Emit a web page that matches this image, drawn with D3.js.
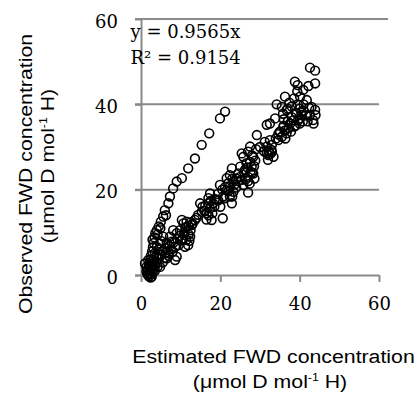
<!DOCTYPE html>
<html>
<head>
<meta charset="utf-8">
<script src="https://cdn.jsdelivr.net/npm/d3@7"></script>
<style>
  body { margin: 0; background: #fff; }
  svg { display: block; }
</style>
</head>
<body>
<svg id="chart" width="419" height="394"></svg>
<script>
// tick values
var xTicks = [0, 20, 40, 60];
var yTicks = [0, 20, 40, 60];

// trend line label
var eqLines = ["y = 0.9565x", "R\u00b2 = 0.9154"];

// steep branch [estimated, observed]
var steepPts = [
  [2.0, 2.5], [2.3, 3.5], [2.5, 4.5], [2.8, 5.5], [3.0, 6.5], [3.2, 7.5], [2.9, 8.3], [3.6, 9.8],
  [4.0, 10.5], [4.5, 11.4], [5.0, 12.5], [5.6, 13.7], [6.0, 15.2], [6.9, 16.8], [7.3, 18.4],
  [8.1, 20.3], [9.0, 21.9], [10.3, 22.7], [11.9, 25.0], [13.6, 27.3], [15.3, 30.5], [17.2, 33.2],
  [19.9, 36.7], [21.2, 38.3], [3.4, 8.8], [4.2, 9.5], [4.9, 11.0], [6.3, 14.0]
];

// main branch [estimated, observed]
var mainPts = [
  [42.6, 48.6], [43.9, 47.9], [38.8, 45.3], [39.5, 44.5], [43.9, 44.9], [42.2, 44.3], [40.9, 43.4],
  [40.1, 41.8], [36.3, 41.8], [34.2, 40.0], [35.5, 39.4], [36.7, 38.7], [41.8, 41.0], [43.0, 39.4],
  [43.9, 38.7], [43.4, 36.3], [42.6, 37.5], [39.2, 37.9], [40.1, 36.7], [38.4, 36.3], [37.6, 35.5],
  [40.5, 37.5], [35.9, 34.8], [35.0, 33.6], [35.5, 32.4], [36.7, 33.2], [34.6, 31.6], [33.8, 36.7],
  [32.5, 35.5], [31.7, 35.2], [29.2, 32.8], [32.5, 31.6], [31.7, 30.1], [32.9, 29.3], [32.1, 28.1],
  [33.4, 27.7], [31.7, 28.5], [27.5, 30.1], [27.0, 28.9], [28.3, 27.7], [25.8, 27.7], [25.4, 28.5],
  [26.6, 26.2], [27.9, 25.4], [28.3, 23.8], [27.0, 23.0], [26.2, 24.6], [25.0, 25.4], [24.5, 23.8],
  [25.4, 22.3], [25.8, 21.1], [22.9, 25.0], [22.4, 23.4], [21.6, 22.7], [23.3, 21.9], [22.4, 20.7],
  [23.3, 19.5], [22.4, 18.4], [22.9, 16.8], [27.0, 19.3], [21.6, 19.9], [20.7, 18.4], [19.9, 21.1],
  [20.6, 13.3], [19.1, 17.6], [18.2, 16.8], [17.4, 19.1], [17.0, 18.0], [17.0, 16.8], [17.4, 15.6],
  [16.6, 14.5], [17.8, 12.9], [14.9, 16.8], [15.3, 14.8], [14.4, 14.1], [13.6, 12.9], [12.8, 11.7],
  [11.5, 11.3], [10.7, 12.1], [9.8, 10.5], [10.3, 12.9], [12.4, 9.0], [11.9, 7.0], [11.1, 6.6],
  [10.3, 8.2], [9.0, 9.8], [8.1, 10.5], [7.3, 9.0], [7.7, 7.8], [8.6, 6.6], [9.0, 4.3], [8.6, 3.5],
  [6.5, 3.9], [5.6, 9.0], [4.8, 7.4], [6.0, 6.3], [6.9, 5.1], [5.2, 4.7], [4.0, 6.6], [3.5, 5.1],
  [4.4, 3.9], [3.1, 2.7], [4.8, 1.9], [1.8, 3.5], [1.4, 1.9], [2.3, 1.2], [1.8, 0.0], [2.7, -0.4],
  [1.4, 0.8], [1.0, 2.7], [2.0, 0.5], [2.5, 1.5], [3.0, 0.8], [2.2, 2.2], [3.5, 1.0], [1.7, 1.4],
  [2.8, 3.0], [3.3, 4.0], [2.4, -0.6], [2.0, -0.3], [1.6, 0.2], [2.9, 2.0], [3.8, 3.0], [4.2, 2.0],
  [5.5, 3.0], [6.0, 4.0], [7.0, 4.5], [7.5, 6.0], [8.0, 5.5], [6.5, 7.5], [5.0, 8.0], [4.5, 6.0],
  [9.5, 7.0], [10.5, 8.5], [11.0, 10.0], [12.0, 9.5], [12.5, 10.5], [11.5, 12.5], [12.0, 11.5],
  [13.0, 12.0], [15.5, 16.0], [16.0, 15.0], [17.0, 14.0], [16.5, 13.0], [18.0, 14.5], [18.5, 16.0],
  [19.5, 17.5], [20.0, 16.0], [21.0, 18.0], [20.5, 20.0], [22.0, 21.5], [23.0, 22.5], [24.0, 20.5],
  [24.5, 22.0], [25.0, 23.0], [26.0, 24.0], [27.0, 22.0], [28.0, 24.0], [28.5, 25.5], [27.5, 26.5],
  [28.0, 28.0], [29.0, 29.5], [30.0, 30.0], [31.0, 29.0], [32.0, 27.0], [33.0, 30.5], [34.0, 32.0],
  [35.0, 33.5], [36.0, 35.0], [37.0, 36.0], [38.0, 37.0], [39.0, 38.0], [40.0, 39.0], [41.0, 38.5],
  [39.5, 40.0], [41.0, 40.0], [38.0, 39.5], [37.0, 39.0], [36.0, 36.5], [39.0, 35.0], [40.0, 35.5],
  [42.0, 36.0], [43.5, 35.5], [44.0, 37.5],
  [2.2, 0.9], [2.6, 0.2], [3.2, 1.6], [3.6, 2.2], [2.0, 1.8], [2.6, 2.6], [3.0, 3.6], [3.9, 4.4],
  [4.6, 4.8], [5.4, 5.6], [6.2, 5.2], [7.2, 6.8], [8.2, 7.6], [9.2, 8.4], [9.8, 9.2], [10.8, 9.4],
  [11.4, 8.2], [12.2, 8.0], [11.2, 11.0], [12.6, 12.4], [14.0, 13.4], [16.2, 16.2], [17.6, 17.4],
  [18.6, 17.8], [19.4, 19.0], [21.2, 20.6], [22.0, 19.6], [23.6, 21.2], [23.0, 18.4], [24.0, 22.6],
  [26.4, 22.4], [27.6, 24.2], [28.6, 22.6], [27.4, 21.4], [26.8, 25.2], [28.8, 26.8], [31.2, 31.2],
  [32.6, 28.4], [33.0, 28.8], [32.2, 29.0], [34.6, 33.0], [36.4, 32.0], [36.2, 33.8], [37.2, 34.4],
  [37.8, 33.6], [38.6, 34.8], [39.6, 36.2], [40.8, 36.0], [40.4, 38.2], [41.6, 37.4], [42.4, 39.2],
  [38.6, 41.4], [39.4, 43.0], [35.8, 37.8], [37.4, 40.4]
];

var svg = d3.select("#chart");
var x = d3.scaleLinear().domain([0, 60]).range([141, 379]);
var y = d3.scaleLinear().domain([0, 60]).range([275, 19]);
var gray = "#8a8a8a";

// horizontal gridlines
svg.append("g").selectAll("line").data(yTicks.filter(function (d) { return d > 0; })).enter()
  .append("line")
  .attr("x1", 135).attr("x2", function (d) { return d == 60 ? 388 : 379; })
  .attr("y1", function (d) { return y(d); }).attr("y2", function (d) { return y(d); })
  .style("stroke", gray).style("stroke-width", 2);

// axes
var xAxis = svg.append("g").attr("transform", "translate(0," + y(0) + ")")
  .call(d3.axisBottom(x).tickValues(xTicks).tickSize(7).tickSizeOuter(0).tickPadding(15));
var yAxis = svg.append("g").attr("transform", "translate(" + x(0) + ",0)")
  .call(d3.axisLeft(y).tickValues(yTicks).tickSize(6).tickSizeOuter(0).tickPadding(17));

[xAxis, yAxis].forEach(function (g) {
  g.select(".domain").style("stroke", gray).style("stroke-width", 2);
  g.selectAll(".tick line").style("stroke", gray).style("stroke-width", 2);
  g.selectAll(".tick text").style("font-family", "'DejaVu Serif', serif")
    .style("font-size", "18px").style("fill", "#000");
});
yAxis.selectAll(".tick text").attr("dy", "0.45em");
xAxis.select(".domain").attr("d", "M135,0.5H379");

// points
var pts = svg.append("g");
pts.selectAll(".mainPt").data(mainPts).enter().append("circle").attr("class", "mainPt")
  .attr("cx", function (d) { return x(d[0]); }).attr("cy", function (d) { return y(d[1]); })
  .attr("r", 4.4).style("fill", "none").style("stroke", "#000").style("stroke-width", 1.6);
pts.selectAll(".steepPt").data(steepPts).enter().append("circle").attr("class", "steepPt")
  .attr("cx", function (d) { return x(d[0]); }).attr("cy", function (d) { return y(d[1]); })
  .attr("r", 4.4).style("fill", "none").style("stroke", "#000").style("stroke-width", 1.6);

// trend label
svg.append("g").selectAll("text").data(eqLines).enter().append("text")
  .attr("x", 130.5).attr("y", function (d, i) { return 38 + i * 25.5; })
  .style("font-family", "'DejaVu Serif', serif").style("font-size", "18px")
  .text(function (d) { return d; });

// axis titles
function unitLine(t) {
  t.append("tspan").text("(\u03bcmol D mol");
  t.append("tspan").attr("dy", -7).style("font-size", "11px").text("-1");
  t.append("tspan").attr("dy", 7).text(" H)");
}
var sans = "'Liberation Sans', Arial, sans-serif";

svg.append("text").attr("transform", "translate(273.5,363) scale(1.12,1)")
  .attr("text-anchor", "middle").style("font-family", sans).style("font-size", "19px")
  .text("Estimated FWD concentration");
svg.append("text").attr("transform", "translate(270,388) scale(1.12,1)")
  .attr("text-anchor", "middle").style("font-family", sans).style("font-size", "19px")
  .call(unitLine);

svg.append("text").attr("transform", "translate(32,174) rotate(-90) scale(1.12,1)")
  .attr("text-anchor", "middle").style("font-family", sans).style("font-size", "19px")
  .text("Observed FWD concentration");
svg.append("text").attr("transform", "translate(54,166) rotate(-90) scale(1.12,1)")
  .attr("text-anchor", "middle").style("font-family", sans).style("font-size", "19px")
  .call(unitLine);
</script>
</body>
</html>
